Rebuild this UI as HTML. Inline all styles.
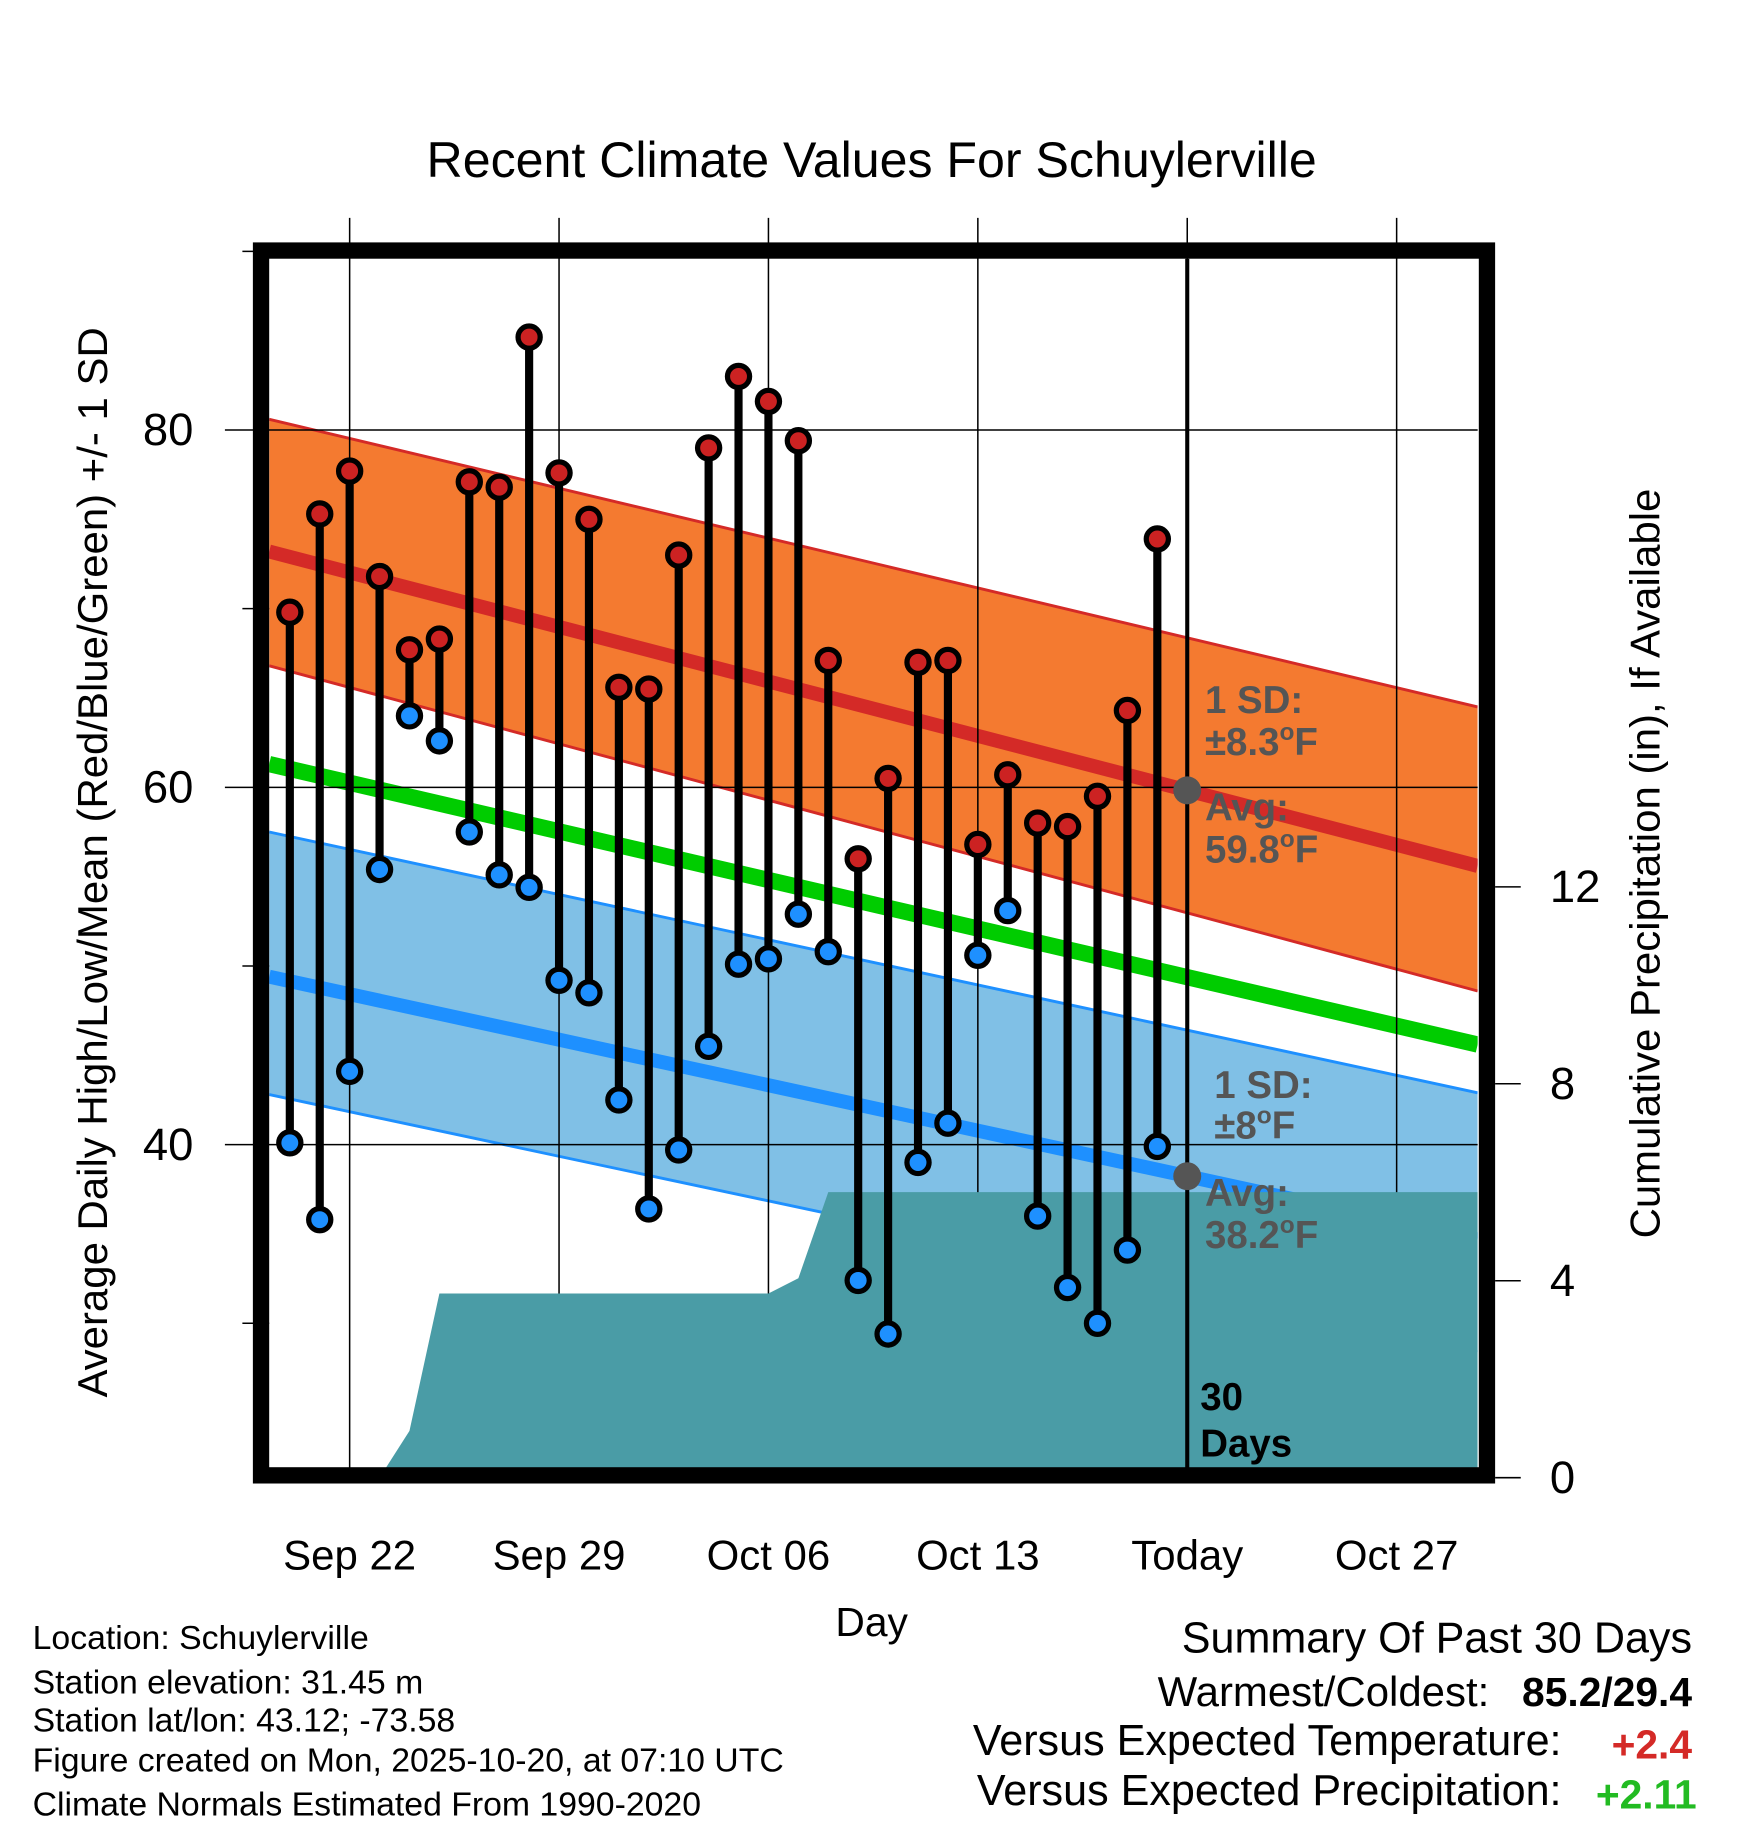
<!DOCTYPE html>
<html><head><meta charset="utf-8"><style>
html,body{margin:0;padding:0;background:#fff;}
svg{display:block;font-family:"Liberation Sans",Arial,sans-serif;}
</style></head><body>
<svg id="chart" width="1748" height="1828" viewBox="0 0 1500 1568.6" preserveAspectRatio="none" xmlns="http://www.w3.org/2000/svg">
<g id="back"></g>
<g id="marks"></g>
<g id="front"></g>
</svg>
<script>
const days = ["Sep 20","Sep 21","Sep 22","Sep 23","Sep 24","Sep 25","Sep 26","Sep 27","Sep 28","Sep 29","Sep 30","Oct 01","Oct 02","Oct 03","Oct 04","Oct 05","Oct 06","Oct 07","Oct 08","Oct 09","Oct 10","Oct 11","Oct 12","Oct 13","Oct 14","Oct 15","Oct 16","Oct 17","Oct 18","Oct 19"];
const highs = [69.8,75.3,77.7,71.8,67.7,68.3,77.1,76.8,85.2,77.6,75.0,65.6,65.5,73.0,79.0,83.0,81.6,79.4,67.1,56.0,60.5,67.0,67.1,56.8,60.7,58.0,57.8,59.5,64.3,73.9];
const lows = [40.1,35.8,44.1,55.4,64.0,62.6,57.5,55.1,54.4,49.2,48.5,42.5,36.4,39.7,45.5,50.1,50.4,52.9,50.8,32.4,29.4,39.0,41.2,50.6,53.1,36.0,32.0,30.0,34.1,39.9];
const precip = [0,0,0,0,0.95,3.74,3.74,3.74,3.74,3.74,3.74,3.74,3.74,3.74,3.74,3.74,3.74,4.05,5.8,5.8,5.8,5.8,5.8,5.8,5.8,5.8,5.8,5.8,5.8,5.8];
// normals at left edge / right edge of plot
const normHighEnds = [73.2,55.6];
const normHighUpperEnds = [80.6,64.5];
const normHighLowerEnds = [66.8,48.6];
const normLowEnds = [49.4,34.7];
const normLowUpperEnds = [57.5,42.9];
const normLowLowerEnds = [42.8,28.4];
const normMeanEnds = [61.3,45.6];
const xTickLabels = ["Sep 22","Sep 29","Oct 06","Oct 13","Today","Oct 27"];
const xTickDays = [2,9,16,23,30,37];
const yTicks = [40,60,80];
const yMinorTicks = [30,50,70,90];
const pTicks = [0,4,8,12];

const NS="http://www.w3.org/2000/svg";
const L=231,R=1268,T=222,B=1260;
const xS=d=>248.7+d*25.67;
const yS=t=>369+(80-t)*15.33;
const pS=p=>1268-p*42.25;
function lerpEnds(e,x){return e[0]+(e[1]-e[0])*(x-L)/(R-L);}
function mk(parent,tag,attrs,text){const e=document.createElementNS(NS,tag);for(const k in attrs)e.setAttribute(k,attrs[k]);if(text!==undefined)e.textContent=text;document.getElementById(parent).appendChild(e);return e;}
const back='back',marks='marks',front='front';
let e;
const defs=mk(back,'defs',{});
const cp=document.createElementNS(NS,'clipPath');cp.setAttribute('id','plotclip');
const cr=document.createElementNS(NS,'rect');cr.setAttribute('x',L);cr.setAttribute('y',T);cr.setAttribute('width',R-L);cr.setAttribute('height',B-T);cp.appendChild(cr);defs.appendChild(cp);
const g=mk(back,'g',{'clip-path':'url(#plotclip)'});g.id='clipg';
function band(up,lo,fill,edge,name){
 const yt1=yS(up[0]),yt2=yS(up[1]),yb1=yS(lo[0]),yb2=yS(lo[1]);
 e=mk('clipg','polygon',{points:`${L},${yt1} ${R},${yt2} ${R},${yb2} ${L},${yb1}`,fill:fill});
 
 e=mk('clipg','line',{x1:L,y1:yt1,x2:R,y2:yt2,stroke:edge,'stroke-width':2.5});
 
 e=mk('clipg','line',{x1:L,y1:yb1,x2:R,y2:yb2,stroke:edge,'stroke-width':2.5});
 
}
band(normHighUpperEnds,normHighLowerEnds,'#f47a30','#d42a27','high');
band(normLowUpperEnds,normLowLowerEnds,'#80c0e6','#1e90ff','low');
e=mk('clipg','line',{x1:L,y1:yS(normHighEnds[0]),x2:R,y2:yS(normHighEnds[1]),stroke:'#d42a27','stroke-width':12});

e=mk('clipg','line',{x1:L,y1:yS(normMeanEnds[0]),x2:R,y2:yS(normMeanEnds[1]),stroke:'#00cc00','stroke-width':14});

e=mk('clipg','line',{x1:L,y1:yS(normLowEnds[0]),x2:R,y2:yS(normLowEnds[1]),stroke:'#1e90ff','stroke-width':12});

xTickDays.forEach(d=>{e=mk('back','line',{x1:xS(d),y1:187,x2:xS(d),y2:1273,stroke:'#000','stroke-width':1.3});
 });
yTicks.forEach(t=>{e=mk('back','line',{x1:193,y1:yS(t),x2:R,y2:yS(t),stroke:'#000','stroke-width':1.3});
 });
yMinorTicks.forEach(t=>{e=mk('back','line',{x1:208,y1:yS(t),x2:L,y2:yS(t),stroke:'#000','stroke-width':1.3});
 });
let pts=[];
pts.push(`${xS(0)},${pS(0)}`);
precip.forEach((p,i)=>pts.push(`${xS(i)},${pS(p)}`));
pts.push(`${R},${pS(precip[precip.length-1])}`);
pts.push(`${R},${pS(0)}`);
const pg=mk('back','g',{'clip-path':'url(#plotclip)'});
e=document.createElementNS(NS,'polygon');e.setAttribute('points',pts.join(' '));e.setAttribute('fill','#4a9ca6');pg.appendChild(e);


highs.forEach((h,i)=>{
 const x=xS(i);
 e=mk(marks,'line',{x1:x,y1:yS(h),x2:x,y2:yS(lows[i]),stroke:'#000','stroke-width':7});
 
});
highs.forEach((h,i)=>{
 const x=xS(i);
 e=mk(marks,'circle',{cx:x,cy:yS(h),r:9.5,fill:'#cc2222',stroke:'#000','stroke-width':4.5});
 
 e=mk(marks,'circle',{cx:x,cy:yS(lows[i]),r:9.5,fill:'#1e90ff',stroke:'#000','stroke-width':4.5});
 
});
const xT=xS(30);
e=mk(front,'line',{x1:xT,y1:T,x2:xT,y2:B,stroke:'#000','stroke-width':3.5});

e=mk(front,'circle',{cx:xT,cy:yS(lerpEnds(normHighEnds,xT)),r:12,fill:'#555'});

e=mk(front,'circle',{cx:xT,cy:yS(lerpEnds(normLowEnds,xT)),r:12,fill:'#555'});

e=mk(front,'rect',{x:224,y:215,width:1052,height:1051,fill:'none',stroke:'#000','stroke-width':14});

xTickLabels.forEach((s,i)=>{e=mk(front,'text',{x:xS(xTickDays[i]),y:1347,'font-size':36,'text-anchor':'middle'},s);
 });
yTicks.forEach(t=>{e=mk(front,'text',{x:166,y:yS(t)+13,'font-size':39,'text-anchor':'end'},t);
 });
pTicks.forEach(p=>{e=mk(front,'line',{x1:1283,y1:pS(p),x2:1305,y2:pS(p),stroke:'#000','stroke-width':1.3});
 
 e=mk(front,'text',{x:1330,y:pS(p)+13,'font-size':39,'text-anchor':'start'},p);
 });
</script>
<script>
(function(){
const NS="http://www.w3.org/2000/svg";const f=document.getElementById('front');
function t(x,y,s,txt,name,extra){const e=document.createElementNS(NS,'text');e.setAttribute('x',x);e.setAttribute('y',y);e.setAttribute('font-size',s);for(const k in (extra||{}))e.setAttribute(k,extra[k]);e.innerHTML=txt;f.appendChild(e);


return e;}
t(748,152,43,'Recent Climate Values For Schuylerville','chart-title',{'text-anchor':'middle'});
t(748,1404,35,'Day','x-axis-title',{'text-anchor':'middle'});
t(0,0,36,'Average Daily High/Low/Mean (Red/Blue/Green) +/- 1 SD','y-axis-title',{'text-anchor':'middle',transform:'translate(92,740) rotate(-90)'});
t(0,0,36,'Cumulative Precipitation (in), If Available','precip-axis-title',{'text-anchor':'middle',transform:'translate(1424,741) rotate(-90)'});
const g={fill:'#555','font-weight':'bold'};
const fs=33;
t(1034,612,fs,'1 SD:','high-sd-label',g);
t(1034,648,fs,'±8.3<tspan dy="-13" font-size="21">o</tspan><tspan dy="13">F</tspan>','high-sd-value',g);
t(1034,704,fs,'Avg:','high-avg-label',g);
t(1034,740,fs,'59.8<tspan dy="-13" font-size="21">o</tspan><tspan dy="13">F</tspan>','high-avg-value',g);
t(1042,942,fs,'1 SD:','low-sd-label',g);
t(1042,977,fs,'±8<tspan dy="-13" font-size="21">o</tspan><tspan dy="13">F</tspan>','low-sd-value',g);
t(1034,1035,fs,'Avg:','low-avg-label',g);
t(1034,1071,fs,'38.2<tspan dy="-13" font-size="21">o</tspan><tspan dy="13">F</tspan>','low-avg-value',g);
t(1030,1210,33,'30','days-count',{'font-weight':'bold'});
t(1030,1250,33,'Days','days-label',{'font-weight':'bold'});
const left=['Location: Schuylerville','Station elevation: 31.45 m','Station lat/lon: 43.12; -73.58','Figure created on Mon, 2025-10-20, at 07:10 UTC','Climate Normals Estimated From 1990-2020'];
const ly=[1415,1453,1486,1520,1558];
left.forEach((s,i)=>t(28,ly[i],29,s,'footer-info-line'));
t(1452,1418,37,'Summary Of Past 30 Days','summary-title',{'text-anchor':'end'});
t(1278,1464,36,'Warmest/Coldest:','summary-extremes-label',{'text-anchor':'end'});
t(1452,1464,35,'85.2/29.4','summary-extremes-value',{'text-anchor':'end','font-weight':'bold'});
t(1340,1506,37,'Versus Expected Temperature:','summary-temp-label',{'text-anchor':'end'});
t(1452,1509,35,'+2.4','summary-temp-value',{'text-anchor':'end','font-weight':'bold',fill:'#d42a27'});
t(1340,1549,37,'Versus Expected Precipitation:','summary-precip-label',{'text-anchor':'end'});
t(1456,1552,35,'+2.11','summary-precip-value',{'text-anchor':'end','font-weight':'bold',fill:'#22bb22'});
})();
</script>
</body></html>
